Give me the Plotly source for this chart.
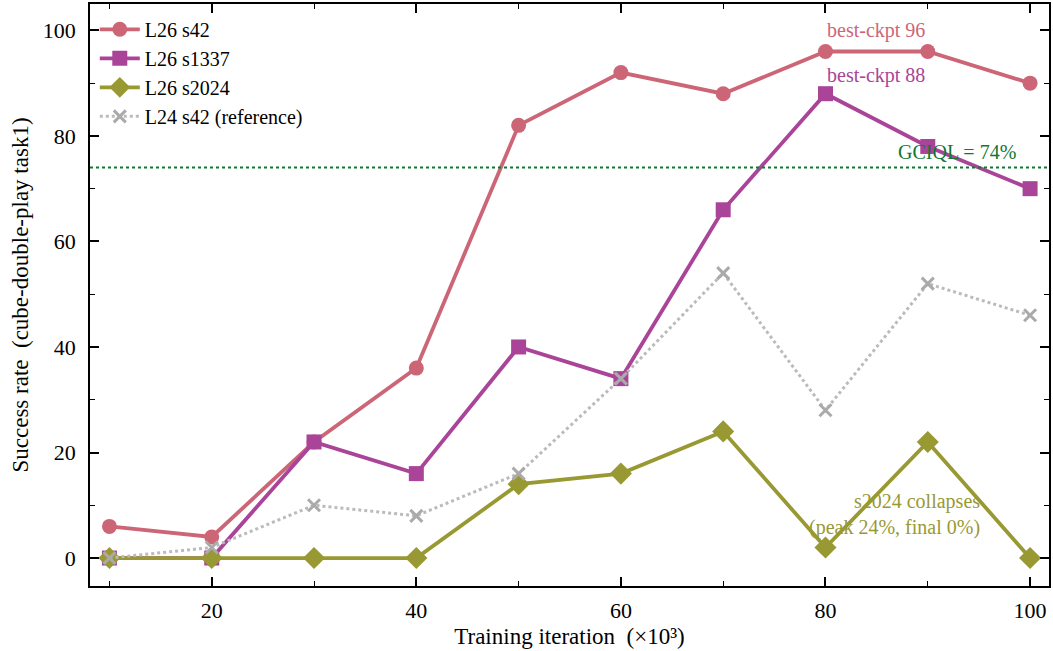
import plotly.graph_objects as go

iters = [10, 20, 30, 40, 50, 60, 70, 80, 90, 100]
s42 = [6, 4, 22, 36, 82, 92, 88, 96, 96, 90]
s1337 = [0, 0, 22, 16, 40, 34, 66, 88, 78, 70]
s2024 = [0, 0, 0, 0, 14, 16, 24, 2, 22, 0]
ref_l24 = [0, 2, 10, 8, 16, 34, 54, 28, 52, 46]
gciql = 74

FONT = "Liberation Serif"
fig = go.Figure()
fig.add_trace(go.Scatter(x=iters, y=s42, name="L26 s42", mode="lines+markers",
                         line=dict(color="#CC6677", width=3.8),
                         marker=dict(symbol="circle", size=15, color="#CC6677")))
fig.add_trace(go.Scatter(x=iters, y=s1337, name="L26 s1337", mode="lines+markers",
                         line=dict(color="#AA4499", width=3.8),
                         marker=dict(symbol="square", size=15, color="#AA4499")))
fig.add_trace(go.Scatter(x=iters, y=s2024, name="L26 s2024", mode="lines+markers",
                         line=dict(color="#999933", width=3.8),
                         marker=dict(symbol="diamond", size=17, color="#999933")))
fig.add_trace(go.Scatter(x=iters, y=ref_l24, name="L24 s42 (reference)", mode="lines+markers",
                         line=dict(color="#BBBBBB", width=3, dash="dot"),
                         marker=dict(symbol="x-thin", size=12, color="#AAAAAA",
                                     line=dict(width=3, color="#AAAAAA"))))

fig.add_hline(y=gciql, line=dict(color="#117733", width=2, dash="dot"))

fig.add_annotation(x=80, y=96, text="best-ckpt 96", showarrow=False, xanchor="left",
                   yanchor="middle", yshift=21, xshift=0, font=dict(color="#CC6677", size=20, family=FONT))
fig.add_annotation(x=80, y=88, text="best-ckpt 88", showarrow=False, xanchor="left",
                   yanchor="middle", yshift=18, xshift=0, font=dict(color="#AA4499", size=20, family=FONT))
fig.add_annotation(x=98.8, y=gciql, text="GCIQL = 74%", showarrow=False, xanchor="right",
                   yanchor="middle", yshift=16, font=dict(color="#117733", size=20, family=FONT))
fig.add_annotation(x=95.3, y=8.2, text="s2024 collapses<br>(peak 24%, final 0%)", showarrow=False,
                   xanchor="right", yanchor="middle", align="right",
                   font=dict(color="#999933", size=20, family=FONT))

axis_common = dict(showline=True, linecolor="black", linewidth=1.5, mirror="allticks",
                   ticks="inside", ticklen=9, tickwidth=1.5, tickcolor="black",
                   showgrid=False, zeroline=False,
                   tickfont=dict(size=22, family=FONT, color="black"))
fig.update_xaxes(range=[8.1, 101.85], tickvals=[20, 40, 60, 80, 100], ticklabelstandoff=4,
                 minor=dict(tickvals=[10, 30, 50, 70, 90], ticks="inside", ticklen=5, tickwidth=1.2, tickcolor="black"),
                 title=dict(text="Training iteration  (×10³)", font=dict(size=23, family=FONT, color="black"), standoff=6),
                 **axis_common)
fig.update_yaxes(range=[-5.3, 105], tickvals=[0, 20, 40, 60, 80, 100], ticklabelstandoff=8,
                 minor=dict(tickvals=[10, 30, 50, 70, 90], ticks="inside", ticklen=5, tickwidth=1.2, tickcolor="black"),
                 title=dict(text="Success rate  (cube-double-play task1)", font=dict(size=23, family=FONT, color="black"), standoff=8),
                 **axis_common)

fig.update_layout(width=1053, height=651, margin=dict(l=90, r=2, t=4, b=65),
                  plot_bgcolor="white", paper_bgcolor="white",
                  font=dict(family=FONT),
                  legend=dict(x=0.005, y=0.99, xanchor="left", yanchor="top",
                              bgcolor="rgba(255,255,255,0)", borderwidth=0,
                              font=dict(size=20, family=FONT, color="black"),
                              itemwidth=40))
fig.write_html("out.html")
